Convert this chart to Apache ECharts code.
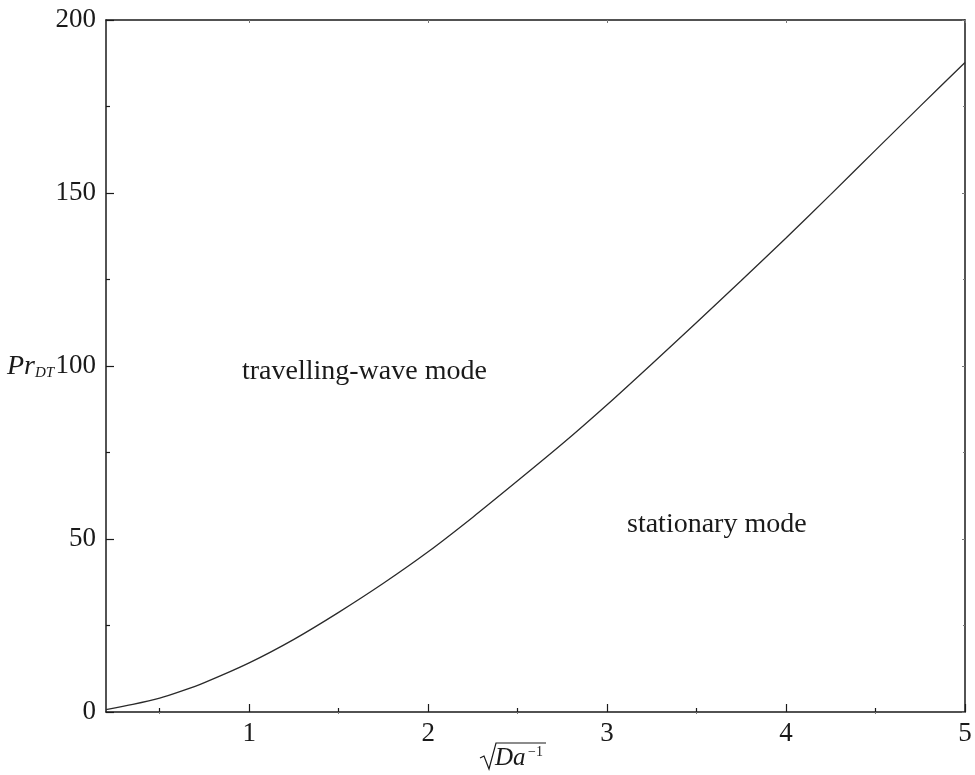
<!DOCTYPE html>
<html>
<head>
<meta charset="utf-8">
<script src="https://cdn.jsdelivr.net/npm/echarts@6/dist/echarts.min.js"></script>
<style>
  html, body { margin: 0; padding: 0; background: #fff; }
  #chart { width: 975px; height: 775px; }
</style>
</head>
<body>
<div id="chart"></div>
<script>
// Critical Prandtl number curve separating the two convection modes
const sqrtInvDa = [0.2, 0.35, 0.5, 0.625, 0.75, 1, 1.25, 1.5, 1.75, 2, 2.25, 2.5, 2.75, 3, 3.25, 3.5, 3.75, 4, 4.25, 4.5, 4.75, 5];
const prDT = [0.7, 2.2, 4.0, 6.1, 8.5, 14.2, 21, 28.8, 37.2, 46.3, 56.3, 66.8, 77.5, 88.8, 100.6, 112.6, 124.7, 137, 149.6, 162.4, 175.1, 187.7];

const xMajorTicks = [1, 2, 3, 4, 5];
const xMinorTicks = [0.5, 1.5, 2.5, 3.5, 4.5];
const yTicks = [0, 50, 100, 150, 200];

const regionLabels = ['travelling-wave mode', 'stationary mode'];

const SERIF = '"Liberation Serif", "DejaVu Serif", serif';
const INK = '#1a1a1a';

const chart = echarts.init(document.getElementById('chart'), null, { renderer: 'canvas' });

const baseX = {
  type: 'value', min: 0.2, max: 5,
  splitLine: { show: false },
  axisLine: { show: false },
  axisLabel: { show: false }
};

const option = {
  backgroundColor: '#fff',
  animation: false,
  grid: { left: 106, right: 10, top: 20, bottom: 63, containLabel: false },
  xAxis: [
    Object.assign({}, baseX, {
      position: 'bottom',
      axisLine: { show: true, onZero: false, lineStyle: { color: INK, width: 1.5 } },
      axisTick: { show: true, inside: true, length: 8, customValues: xMajorTicks, lineStyle: { color: INK, width: 1.2 } },
      axisLabel: { show: true, customValues: xMajorTicks, margin: 8, color: INK, fontFamily: SERIF, fontSize: 27 }
    }),
    Object.assign({}, baseX, {
      position: 'bottom',
      axisTick: { show: true, inside: true, length: 4, customValues: xMinorTicks, lineStyle: { color: INK, width: 1.2 } }
    }),
    Object.assign({}, baseX, {
      position: 'top',
      axisLine: { show: true, onZero: false, lineStyle: { color: INK, width: 1.5 } },
      axisTick: { show: true, inside: true, length: 3, customValues: xMajorTicks, lineStyle: { color: '#777', width: 1 } }
    }),
    Object.assign({}, baseX, {
      position: 'top',
      axisTick: { show: true, inside: true, length: 2, customValues: xMinorTicks, lineStyle: { color: '#777', width: 1 } }
    })
  ],
  yAxis: [
    {
      type: 'value', min: 0, max: 200, interval: 50, position: 'left',
      splitLine: { show: false },
      axisLine: { show: true, onZero: false, lineStyle: { color: INK, width: 1.5 } },
      axisTick: { show: true, inside: true, length: 8, lineStyle: { color: INK, width: 1.2 } },
      minorTick: { show: true, splitNumber: 2, length: 4, lineStyle: { color: INK, width: 1.2 } },
      axisLabel: { margin: 10, color: INK, fontFamily: SERIF, fontSize: 27,
        customValues: yTicks }
    },
    {
      type: 'value', min: 0, max: 200, interval: 50, position: 'right',
      splitLine: { show: false },
      axisLine: { show: true, onZero: false, lineStyle: { color: INK, width: 1.5 } },
      axisTick: { show: true, inside: true, length: 3, lineStyle: { color: '#777', width: 1 } },
      minorTick: { show: true, splitNumber: 2, length: 2, lineStyle: { color: '#777', width: 1 } },
      axisLabel: { show: false }
    }
  ],
  series: [
    {
      type: 'line',
      xAxisIndex: 0, yAxisIndex: 0,
      data: sqrtInvDa.map((x, i) => [x, prDT[i]]),
      smooth: 0.25,
      symbol: 'none',
      lineStyle: { color: '#2a2a2a', width: 1.3 },
      z: 3
    }
  ],
  graphic: [
    {
      type: 'text', left: 242, top: 358,
      style: { text: regionLabels[0], font: '28px ' + SERIF, fill: INK }
    },
    {
      type: 'text', left: 627, top: 511,
      style: { text: regionLabels[1], font: '28px ' + SERIF, fill: INK }
    },
    {
      // y-axis name: Pr with subscript DT
      type: 'text', x: 7, y: 351,
      style: {
        text: '{pr|Pr}{sub|DT}',
        rich: {
          pr: { fontFamily: SERIF, fontStyle: 'italic', fontSize: 28, fill: INK, verticalAlign: 'bottom', lineHeight: 30 },
          sub: { fontFamily: SERIF, fontStyle: 'italic', fontSize: 15, fill: INK, verticalAlign: 'bottom', lineHeight: 20, padding: [11, 0, 0, 0] }
        }
      }
    },
    {
      // x-axis name: square root of Da^-1
      type: 'group', x: 0, y: 0,
      children: [
        { type: 'polyline', shape: { points: [[480, 758], [484, 756], [489, 769], [496, 743], [546, 743]] },
          style: { stroke: INK, lineWidth: 1.2, fill: null } },
        { type: 'text', x: 495, y: 746, style: { text: 'Da', font: 'italic 25px ' + SERIF, fill: INK } },
        { type: 'text', x: 528, y: 745, style: { text: '−1', font: '14px ' + SERIF, fill: INK } }
      ]
    }
  ]
};

chart.setOption(option);
</script>
</body>
</html>
